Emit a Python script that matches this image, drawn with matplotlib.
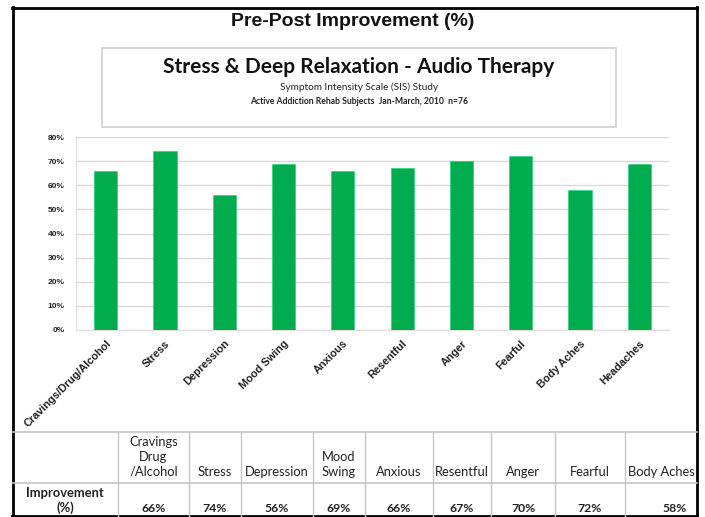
import matplotlib
matplotlib.use("Agg")
import matplotlib.pyplot as plt
from matplotlib.patches import Rectangle

# ---------------- data ----------------
categories = ["Cravings/Drug/Alcohol", "Stress", "Depression", "Mood Swing", "Anxious",
              "Resentful", "Anger", "Fearful", "Body Aches", "Headaches"]
improvement = [66, 74, 56, 69, 66, 67, 70, 72, 58, 69]
y_ticks = [0, 10, 20, 30, 40, 50, 60, 70, 80]
y_tick_labels = ["0%", "10%", "20%", "30%", "40%", "50%", "60%", "70%", "80%"]

table_headers = ["Cravings\nDrug\n/Alcohol", "Stress", "Depression", "Mood\nSwing", "Anxious",
                 "Resentful", "Anger", "Fearful", "Body Aches"]
table_values = [66, 74, 56, 69, 66, 67, 70, 72, 58]
row_label = "Improvement\n(%)"

title = "Pre-Post Improvement (%)"
box_title = "Stress & Deep Relaxation - Audio Therapy"
box_sub1 = "Symptom Intensity Scale (SIS) Study"
box_sub2 = "Active Addiction Rehab Subjects  Jan-March, 2010  n=76"

# ---------------- figure ----------------
W, H = 705, 517
fig = plt.figure(figsize=(W / 100, H / 100), dpi=100)
fig.patch.set_facecolor("white")

# main chart axes (pixel placement)
px_left, px_right, px_top, px_bottom = 76, 669, 137, 330
ax = fig.add_axes([px_left / W, (H - px_bottom) / H, (px_right - px_left) / W, (px_bottom - px_top) / H])
x = range(len(categories))
ax.bar(x, improvement, width=0.39, color="#00ac4e", edgecolor="#1fd070", linewidth=0.4, zorder=3)
ax.set_xlim(-0.5, len(categories) - 0.5)
ax.set_ylim(0, 80)
ax.set_yticks(y_ticks)
ax.set_yticklabels(y_tick_labels, fontsize=6.0, fontweight="bold", family="Liberation Sans", color="#222222")
ax.tick_params(axis="y", length=0, pad=8)
ax.tick_params(axis="x", length=0, pad=6)
ax.set_xticks(list(x))
ax.set_xticklabels(categories, rotation=45, ha="right", rotation_mode="anchor",
                   fontsize=7.8, fontweight="bold", family="Liberation Sans", color="#222222")
ax.grid(axis="y", color="#d9d9d9", linewidth=1.0, zorder=0)
for s in ["top", "right"]:
    ax.spines[s].set_visible(False)
ax.spines["left"].set_color("#dddddd")
ax.spines["bottom"].set_color("#e6dede")
ax.spines["bottom"].set_linewidth(1.0)

# overlay axes in pixel coordinates
ov = fig.add_axes([0, 0, 1, 1], zorder=5)
ov.set_xlim(0, W)
ov.set_ylim(H, 0)
ov.axis("off")
ov.patch.set_alpha(0)

# outer frame
fc = "black"
lw_frame = 2.0
ov.plot([12, 697], [7.5, 7.5], color=fc, lw=lw_frame, solid_capstyle="projecting")
ov.plot([12.5, 12.5], [7, 517], color=fc, lw=lw_frame)
ov.plot([697, 697], [7, 517], color=fc, lw=lw_frame)
ov.plot([12, 697], [515.5, 515.5], color=fc, lw=lw_frame)

# title
ov.text(353, 22, title, ha="center", va="center", fontsize=14, fontweight="bold",
        family="Liberation Sans", color="#111111")

# subtitle box
ov.add_patch(Rectangle((102, 48), 514, 79, fill=False, edgecolor="#d4d4d4", lw=1.3))
ov.text(359, 67, box_title, ha="center", va="center", fontsize=15, fontweight="bold",
        family="Lato", color="#111111")
ov.text(359, 87, box_sub1, ha="center", va="center", fontsize=7.2, family="Lato", color="#222222")
ov.text(359, 101, box_sub2, ha="center", va="center", fontsize=6.2, fontweight="bold",
        family="Lato", color="#222222")

# table
grid_c = "#c4c4c4"
edges = [118, 189, 241, 313, 365, 433, 491, 555, 625, 725]
ov.plot([13, 697], [432, 432], color=grid_c, lw=1.2)
ov.plot([13, 697], [483, 483], color=grid_c, lw=1.2)
for e in edges[:-1]:
    ov.plot([e, e], [432, 517], color=grid_c, lw=1.0)

tfs = 9.3
for i, (hdr, val) in enumerate(zip(table_headers, table_values)):
    cx = (edges[i] + edges[i + 1]) / 2
    if i == len(table_headers) - 1:
        t = ov.text(edges[i] + 3, 478, hdr, ha="left", va="bottom", fontsize=tfs, family="Lato",
                    color="#222222", linespacing=1.3)
        t.set_clip_path(Rectangle((0, 0), 696, 517, transform=ov.transData))
    else:
        ov.text(cx, 478, hdr, ha="center", va="bottom", fontsize=tfs, family="Lato",
                color="#222222", linespacing=1.3)
    ov.text(cx, 508, f"{val}%", ha="center", va="center", fontsize=8.8, fontweight="bold",
            family="Lato", color="#222222")

ov.text(65, 514, row_label, ha="center", va="bottom", fontsize=9.3, fontweight="bold",
        family="Lato", color="#222222", linespacing=1.2)

fig.savefig("out.png", dpi=100)
